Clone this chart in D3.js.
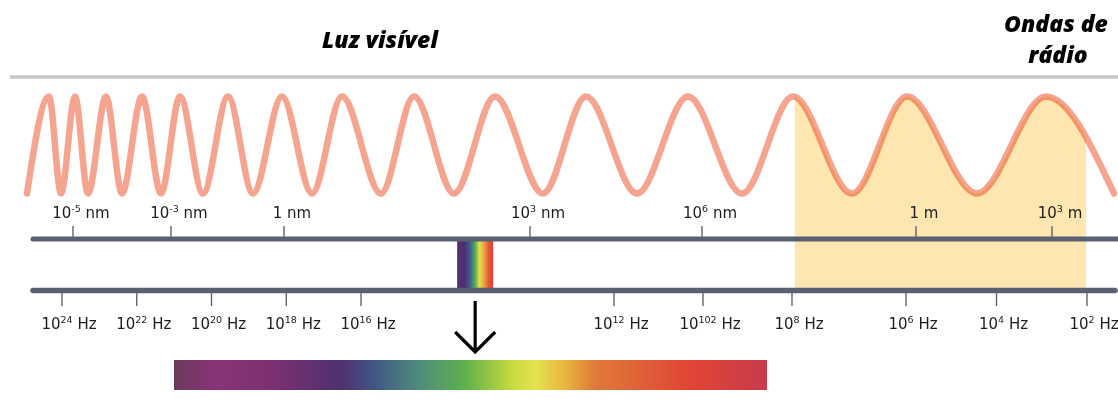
<!DOCTYPE html>
<html>
<head>
<meta charset="utf-8">
<script src="https://cdn.jsdelivr.net/npm/d3@7"></script>
<style>
  html, body { margin: 0; padding: 0; background: #fff; }
  svg { display: block; }
  .lbl { font-family: "DejaVu Sans", sans-serif; font-size: 15px; fill: #1c1c1c; }
  .title { font-family: "Open Sans", sans-serif; font-weight: 800; font-style: italic; font-size: 23px; fill: #000; }
</style>
</head>
<body>
<svg id="chart"></svg>
<script>
// DATA
// wavelength ticks, log10 of metres, with label pieces [base, superscript, unit]
const wavelengthExp = [-14, -12, -9, -6, -3, 0, 3];
const wavelengthLabels = [
  ["10", "-5", " nm"], ["10", "-3", " nm"], ["1", "", " nm"], ["10", "3", " nm"],
  ["10", "6", " nm"], ["1", "", " m"], ["10", "3", " m"]
];
// frequency ticks, log10 of Hz (the 10^10 label is printed "10102" in the source)
const frequencyExp = [24, 22, 20, 18, 16, 12, 10, 8, 6, 4, 2];
const frequencyLabels = [
  ["10", "24", " Hz"], ["10", "22", " Hz"], ["10", "20", " Hz"], ["10", "18", " Hz"],
  ["10", "16", " Hz"], ["10", "12", " Hz"], ["10", "102", " Hz"], ["10", "8", " Hz"],
  ["10", "6", " Hz"], ["10", "4", " Hz"], ["10", "2", " Hz"]
];
// bands on the frequency axis (log10 Hz)
const visibleBand = [14.48, 13.91];
const radioBand = [7.95, 2.02];
// wave: crest and trough positions along the strip
const waveCrests = [49, 75, 106, 142, 180, 228, 282, 342, 414, 495, 586, 688, 793, 907, 1046];
const waveTroughs = [27, 61, 88, 122, 161, 203, 253, 312, 381, 454, 543, 637, 742, 852, 977, 1114];
// colours of the visible spectrum
const spectrumStops = [
  [0, "#6a3a5c"], [0.07, "#8a3378"], [0.17, "#7b3072"], [0.28, "#50306f"],
  [0.34, "#3f5886"], [0.41, "#4f8a7c"], [0.49, "#5db14d"], [0.57, "#c7da3f"],
  [0.61, "#e5e34f"], [0.66, "#e8b43f"], [0.71, "#df7a39"], [0.87, "#e04535"],
  [1, "#c93a4b"]
];
const stripStops = [
  [0, "#5a2d6e"], [0.2, "#4a2f73"], [0.35, "#3e5a8c"], [0.5, "#56ad52"],
  [0.62, "#e3e04c"], [0.75, "#eba23e"], [0.88, "#e3543a"], [1, "#e04333"]
];
const titles = ["Luz visível", "Ondas de", "rádio"];

// LAYOUT
const W = 1118, H = 410;
const svg = d3.select("#chart").attr("width", W).attr("height", H);

const topBarY = 239, botBarY = 290.5, barX0 = 33;
const crestY = 96.5, troughY = 193.5;

// the illustration's axes are not evenly spaced, so piecewise scales
const xWave = d3.scaleLinear().domain([0, W]).range([0, W]);
const xLambda = d3.scaleLinear()
  .domain([-14, -12, -9, -6, -3, 0, 3])
  .range([73, 171, 284, 530, 702, 916, 1052]);
const xFreq = d3.scaleLinear()
  .domain([24, 16, 12, 8, 6, 2])
  .range([62, 361, 614, 792, 906, 1087]);
const yWave = d3.scaleLinear().domain([-1, 1]).range([troughY, crestY]);

const defs = svg.append("defs");
function gradient(id, stops) {
  defs.append("linearGradient")
    .attr("id", id)
    .attr("x1", "0%").attr("x2", "100%").attr("y1", "0%").attr("y2", "0%")
    .selectAll("stop")
    .data(stops)
    .enter()
    .append("stop")
    .attr("offset", d => d[0])
    .attr("stop-color", d => d[1]);
}
gradient("spec-grad", spectrumStops);
gradient("strip-grad", stripStops);

// titles and header rule
svg.append("text").attr("class", "title").attr("x", 380).attr("y", 48)
  .attr("text-anchor", "middle").text(titles[0]);
svg.append("text").attr("class", "title").attr("x", 1056).attr("y", 32)
  .attr("text-anchor", "middle").text(titles[1]);
svg.append("text").attr("class", "title").attr("x", 1058).attr("y", 63)
  .attr("text-anchor", "middle").text(titles[2]);
svg.append("line")
  .attr("x1", 10).attr("x2", W).attr("y1", 77).attr("y2", 77)
  .attr("stroke", "#c6c6c6").attr("stroke-width", 3.5);

// wave points
const wavePts = waveCrests.map(x => ({ x, v: 1 }))
  .concat(waveTroughs.map(x => ({ x, v: -1 })))
  .sort((a, b) => a.x - b.x);

// radio band shading under the wave
const rx0 = xFreq(radioBand[0]), rx1 = xFreq(radioBand[1]);
defs.append("clipPath").attr("id", "radio-clip")
  .append("rect")
  .attr("x", rx0).attr("y", 0)
  .attr("width", rx1 - rx0).attr("height", H);

const area = d3.area()
  .curve(d3.curveMonotoneX)
  .x(d => xWave(d.x))
  .y0(botBarY)
  .y1(d => yWave(d.v));

svg.append("path")
  .datum(wavePts)
  .attr("d", area)
  .attr("fill", "#fde6b0")
  .attr("clip-path", "url(#radio-clip)");

const line = d3.line()
  .curve(d3.curveMonotoneX)
  .x(d => xWave(d.x))
  .y(d => yWave(d.v));

svg.append("path")
  .datum(wavePts)
  .attr("d", line)
  .attr("fill", "none")
  .attr("stroke", "#f5a48f")
  .attr("stroke-width", 6.5)
  .attr("stroke-linecap", "round")
  .style("mix-blend-mode", "multiply");

// label with superscript
function supLabel(sel, parts) {
  sel.append("tspan").text(parts[0]);
  if (parts[1]) {
    sel.append("tspan").attr("dy", -6).attr("font-size", "9.5px").text(parts[1]);
    sel.append("tspan").attr("dy", 6).text(parts[2]);
  } else {
    sel.append("tspan").text(parts[2]);
  }
}

// wavelength ticks
const wl = svg.append("g").selectAll("g")
  .data(wavelengthExp)
  .enter()
  .append("g");
wl.append("line")
  .attr("x1", d => xLambda(d)).attr("x2", d => xLambda(d))
  .attr("y1", 226).attr("y2", topBarY)
  .attr("stroke", "#555a66").attr("stroke-width", 1.3);
wl.append("text")
  .attr("class", "lbl")
  .attr("x", d => xLambda(d) + 8)
  .attr("y", 218)
  .attr("text-anchor", "middle")
  .each(function(d, i) { supLabel(d3.select(this), wavelengthLabels[i]); });

// frequency ticks
const fq = svg.append("g").selectAll("g")
  .data(frequencyExp)
  .enter()
  .append("g");
fq.append("line")
  .attr("x1", d => xFreq(d)).attr("x2", d => xFreq(d))
  .attr("y1", botBarY).attr("y2", 306)
  .attr("stroke", "#555a66").attr("stroke-width", 1.3);
fq.append("text")
  .attr("class", "lbl")
  .attr("x", d => xFreq(d) + 7)
  .attr("y", 329)
  .attr("text-anchor", "middle")
  .each(function(d, i) { supLabel(d3.select(this), frequencyLabels[i]); });

// visible strip between the bars
const vx0 = xFreq(visibleBand[0]), vx1 = xFreq(visibleBand[1]);
svg.append("rect")
  .attr("x", vx0).attr("y", topBarY)
  .attr("width", vx1 - vx0).attr("height", botBarY - topBarY)
  .attr("fill", "url(#strip-grad)");

// the two bars
svg.append("line")
  .attr("x1", barX0).attr("x2", W + 10).attr("y1", topBarY).attr("y2", topBarY)
  .attr("stroke", "#5b6070").attr("stroke-width", 5).attr("stroke-linecap", "round");
svg.append("line")
  .attr("x1", barX0).attr("x2", W - 3).attr("y1", botBarY).attr("y2", botBarY)
  .attr("stroke", "#5b6070").attr("stroke-width", 5.5).attr("stroke-linecap", "round");

// arrow down to the expanded spectrum
const ax = (vx0 + vx1) / 2;
svg.append("path")
  .attr("d", `M${ax},301 V352 M${ax - 20},332 L${ax},352 L${ax + 20},332`)
  .attr("fill", "none")
  .attr("stroke", "#000")
  .attr("stroke-width", 3.2);

// expanded visible spectrum
svg.append("rect")
  .attr("x", 174).attr("y", 360)
  .attr("width", 593).attr("height", 30)
  .attr("fill", "url(#spec-grad)");
</script>
</body>
</html>
